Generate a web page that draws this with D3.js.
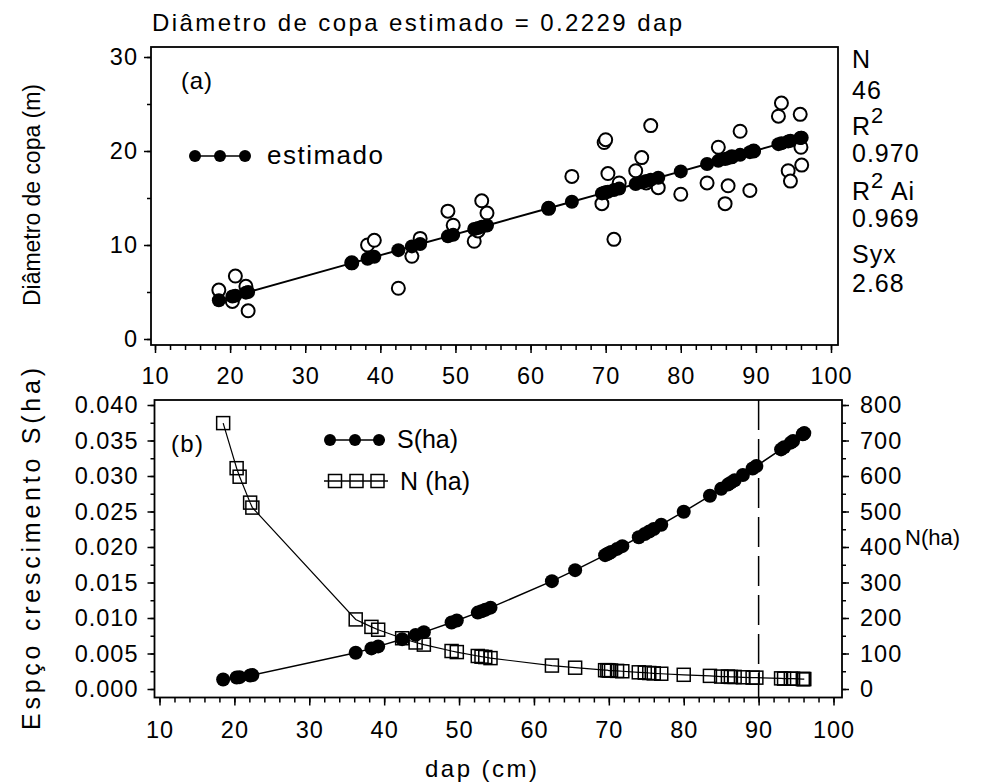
<!DOCTYPE html>
<html><head><meta charset="utf-8">
<script src="https://cdn.jsdelivr.net/npm/d3@7"></script>
<style>
body{margin:0;background:#fff}
text{font-family:"Liberation Sans",Arial,sans-serif;fill:#000}
</style>
</head><body>
<svg id="c" width="986" height="784"></svg>
<script>
// ---- data ----
const dap = [18.5,20.3,20.7,22.1,22.4, 36.2,38.3,39.2, 42.4,44.2,45.3, 49.0,49.7, 52.5,53.0,53.5,54.2,
  62.4,65.5, 69.5,69.8,70.0,70.3,71.1,71.8, 74.0,74.8,75.4,76.0,77.0, 80.0,
  83.5,85.0,85.9,86.3,86.8,87.9,89.2,89.7, 93.0,93.4,94.3,94.6,95.9,96.0,96.1];
const observed = [5.2,4.0,6.7,5.6,3.0, 8.1,10.0,10.5, 5.4,8.8,10.7, 13.6,12.1, 10.4,11.5,14.7,13.4,
  13.9,17.3, 14.4,20.9,21.2,17.6,10.6,16.6, 17.9,19.3,16.6,22.7,16.1, 15.4,
  16.6,20.4,14.4,16.3,19.4,22.1,15.8,20.0, 23.7,25.1,17.9,16.8,23.9,20.4,18.5];
const estimated = [4.12,4.52,4.61,4.93,4.99, 8.07,8.54,8.74, 9.45,9.85,10.10, 10.92,11.08, 11.70,11.81,11.93,12.08,
  13.91,14.60, 15.49,15.56,15.60,15.67,15.85,16.00, 16.49,16.67,16.81,16.94,17.16, 17.83,
  18.61,18.95,19.15,19.24,19.35,19.59,19.88,19.99, 20.73,20.82,21.02,21.09,21.38,21.40,21.42];
const sHa = [0.00134,0.00161,0.00167,0.00191,0.00196, 0.00511,0.00572,0.00600, 0.00702,0.00762,0.00801, 0.00937,0.00964,
  0.01076,0.01096,0.01117,0.01146, 0.01519,0.01674, 0.01885,0.01901,0.01912,0.01929,0.01973,0.02012,
  0.02137,0.02183,0.02219,0.02254,0.02314, 0.02497, 0.02721,0.02819,0.02879,0.02906,0.02940,0.03015,0.03105,0.03140,
  0.03375,0.03404,0.03470,0.03492,0.03589,0.03596,0.03604];
const nHa = [749,622,598,525,511, 196,175,167, 143,131,125, 107,104, 93,91,90,87, 66,60, 53,53,52,52,51,50,
  47,46,45,44,43, 40, 37,35,35,34,34,33,32,32, 30,29,29,29,28,28,28];
const xTicks = [10,20,30,40,50,60,70,80,90,100];
const yTopTicks = [0,10,20,30];
const sTicks = [0,0.005,0.010,0.015,0.020,0.025,0.030,0.035,0.040];
const nTicks = [0,100,200,300,400,500,600,700,800];
const cutDap = 90;
const statLines = [["N",null],["46",null],["R","2"],["0.970",null],["R","2","Ai"],["0.969",null],["Syx",null],["2.68",null]];

// ---- drawing ----
const svg = d3.select("#c");
const FS = 23.5, LS = 1;

const xA = d3.scaleLinear().domain([10,100]).range([155,831]);
const yA = d3.scaleLinear().domain([0,30]).range([339,57]);
const xB = d3.scaleLinear().domain([10,100]).range([159.5,833.5]);
const yS = d3.scaleLinear().domain([0,0.04]).range([689,405]);
const yN = d3.scaleLinear().domain([0,800]).range([689,405]);

function styleAxis(g){
  g.select(".domain").remove();
  g.selectAll(".tick line").attr("stroke","#000").attr("stroke-width",1.5);
  g.selectAll(".tick text").attr("font-family","Liberation Sans, Arial, sans-serif")
    .attr("font-size",FS).attr("letter-spacing",LS).attr("fill","#000");
}
function minorVals(lo,hi,step){const a=[];for(let v=lo;v<=hi+1e-9;v+=step)a.push(+v.toFixed(6));return a;}
function label(x,y,str,fs,len){
  const t = svg.append("text").attr("x",x).attr("y",y).attr("font-size",fs).text(str);
  if(len){ t.attr("textLength",len).attr("lengthAdjust","spacing"); }
  return t;
}

// ---------- panel A ----------
const frameA = {l:151,r:838,t:47,b:345};
svg.append("rect").attr("x",frameA.l).attr("y",frameA.t).attr("width",frameA.r-frameA.l).attr("height",frameA.b-frameA.t)
  .attr("fill","none").attr("stroke","#000").attr("stroke-width",1.8);

svg.append("g").attr("transform",`translate(0,${frameA.b})`)
  .call(d3.axisBottom(xA).tickValues(minorVals(10,100,2)).tickSize(5).tickFormat("")).call(styleAxis);
svg.append("g").attr("transform",`translate(0,${frameA.b})`)
  .call(d3.axisBottom(xA).tickValues(xTicks).tickSize(8).tickPadding(14).tickFormat(d3.format("d"))).call(styleAxis);
svg.append("g").attr("transform",`translate(${frameA.l},0)`)
  .call(d3.axisLeft(yA).tickValues(minorVals(0,30,5)).tickSize(4).tickFormat("")).call(styleAxis);
svg.append("g").attr("transform",`translate(${frameA.l},0)`)
  .call(d3.axisLeft(yA).tickValues(yTopTicks).tickSize(7).tickPadding(6).tickFormat(d3.format("d"))).call(styleAxis);

// observed
svg.append("g").selectAll("circle").data(dap).join("circle")
  .attr("cx",d=>xA(d)).attr("cy",(d,i)=>yA(observed[i])).attr("r",6.5)
  .attr("fill","#fff").attr("stroke","#000").attr("stroke-width",2);
// estimated
const ptsA = dap.map((d,i)=>[d,estimated[i]]);
svg.append("path").datum(ptsA)
  .attr("d",d3.line().x(p=>xA(p[0])).y(p=>yA(p[1])))
  .attr("fill","none").attr("stroke","#000").attr("stroke-width",2);
svg.append("g").selectAll("circle").data(ptsA).join("circle")
  .attr("cx",p=>xA(p[0])).attr("cy",p=>yA(p[1])).attr("r",7).attr("fill","#000");

// legend A
svg.append("line").attr("x1",195).attr("x2",245).attr("y1",156).attr("y2",156).attr("stroke","#000").attr("stroke-width",1.5);
[195,220,245].forEach(x=>svg.append("circle").attr("cx",x).attr("cy",156).attr("r",6).attr("fill","#000"));
label(267,164,"estimado",26,116);
label(181,89,"(a)",24,31);

// title
label(152,31,"Diâmetro de copa estimado = 0.2229 dap",24,530);

// y label A
svg.append("text").attr("transform","translate(40,195) rotate(-90)").attr("text-anchor","middle")
  .attr("font-size",23).attr("textLength",222).attr("lengthAdjust","spacing").text("Diâmetro de copa  (m)");

// stats
const statY = [68,99,135,162,200,227,263,292];
statLines.forEach((s,i)=>{
  const t = svg.append("text").attr("x",852).attr("y",statY[i]).attr("font-size",25).attr("letter-spacing",1);
  t.append("tspan").text(s[0]);
  if(s[1]){ t.append("tspan").attr("dy",-12).attr("font-size",22).text(s[1]); }
  if(s[2]){ t.append("tspan").attr("dy",12).text(" "+s[2]); }
});

// ---------- panel B ----------
const frameB = {l:154.5,r:842,t:400,b:697.5};
svg.append("rect").attr("x",frameB.l).attr("y",frameB.t).attr("width",frameB.r-frameB.l).attr("height",frameB.b-frameB.t)
  .attr("fill","none").attr("stroke","#000").attr("stroke-width",1.8);

svg.append("g").attr("transform",`translate(0,${frameB.b})`)
  .call(d3.axisBottom(xB).tickValues(minorVals(10,100,2)).tickSize(5).tickFormat("")).call(styleAxis);
svg.append("g").attr("transform",`translate(0,${frameB.b})`)
  .call(d3.axisBottom(xB).tickValues(xTicks).tickSize(8).tickPadding(16).tickFormat(d3.format("d"))).call(styleAxis);
svg.append("g").attr("transform",`translate(${frameB.l},0)`)
  .call(d3.axisLeft(yS).tickValues(minorVals(0,0.04,0.0025)).tickSize(4).tickFormat("")).call(styleAxis);
svg.append("g").attr("transform",`translate(${frameB.l},0)`)
  .call(d3.axisLeft(yS).tickValues(sTicks).tickSize(7).tickPadding(9).tickFormat(d3.format(".3f"))).call(styleAxis);
svg.append("g").attr("transform",`translate(${frameB.r},0)`)
  .call(d3.axisRight(yN).tickValues(minorVals(0,800,50)).tickSize(4).tickFormat("")).call(styleAxis);
svg.append("g").attr("transform",`translate(${frameB.r},0)`)
  .call(d3.axisRight(yN).tickValues(nTicks).tickSize(7).tickPadding(11).tickFormat(d3.format("d"))).call(styleAxis);

// reference dashed line
svg.append("line").attr("x1",xB(cutDap)).attr("x2",xB(cutDap)).attr("y1",frameB.t).attr("y2",frameB.b)
  .attr("stroke","#000").attr("stroke-width",1.5).attr("stroke-dasharray","30,9");

// N(ha)
const ptsN = dap.map((d,i)=>[d,nHa[i]]);
svg.append("path").datum(ptsN).attr("d",d3.line().x(p=>xB(p[0])).y(p=>yN(p[1])))
  .attr("fill","none").attr("stroke","#000").attr("stroke-width",1.2);
svg.append("g").selectAll("rect").data(ptsN).join("rect")
  .attr("x",p=>xB(p[0])-6.5).attr("y",p=>yN(p[1])-6.5).attr("width",13).attr("height",13)
  .attr("fill","none").attr("stroke","#000").attr("stroke-width",1.5);
// S(ha)
const ptsS = dap.map((d,i)=>[d,sHa[i]]);
svg.append("path").datum(ptsS).attr("d",d3.line().x(p=>xB(p[0])).y(p=>yS(p[1])))
  .attr("fill","none").attr("stroke","#000").attr("stroke-width",1.5);
svg.append("g").selectAll("circle").data(ptsS).join("circle")
  .attr("cx",p=>xB(p[0])).attr("cy",p=>yS(p[1])).attr("r",7).attr("fill","#000");

// legend B
label(171,452,"(b)",24,32);
svg.append("line").attr("x1",325).attr("x2",385).attr("y1",440).attr("y2",440).attr("stroke","#000").attr("stroke-width",1.5);
[330,355,379].forEach(x=>svg.append("circle").attr("cx",x).attr("cy",440).attr("r",6).attr("fill","#000"));
label(397,448,"S(ha)",25,61);
svg.append("line").attr("x1",324).attr("x2",388).attr("y1",481).attr("y2",481).attr("stroke","#000").attr("stroke-width",1.3);
[335,356.5,377.5].forEach(x=>svg.append("rect").attr("x",x-6.5).attr("y",474.5).attr("width",13).attr("height",13)
  .attr("fill","none").attr("stroke","#000").attr("stroke-width",1.5));
label(400,490,"N (ha)",25,70);

// axis labels B
svg.append("text").attr("transform","translate(40,549) rotate(-90)").attr("text-anchor","middle")
  .attr("font-size",25).attr("textLength",362).attr("lengthAdjust","spacing").text("Espço  crescimento  S(ha)");
label(905,545,"N(ha)",22);
label(425,777,"dap  (cm)",24,112);
</script>
</body></html>
